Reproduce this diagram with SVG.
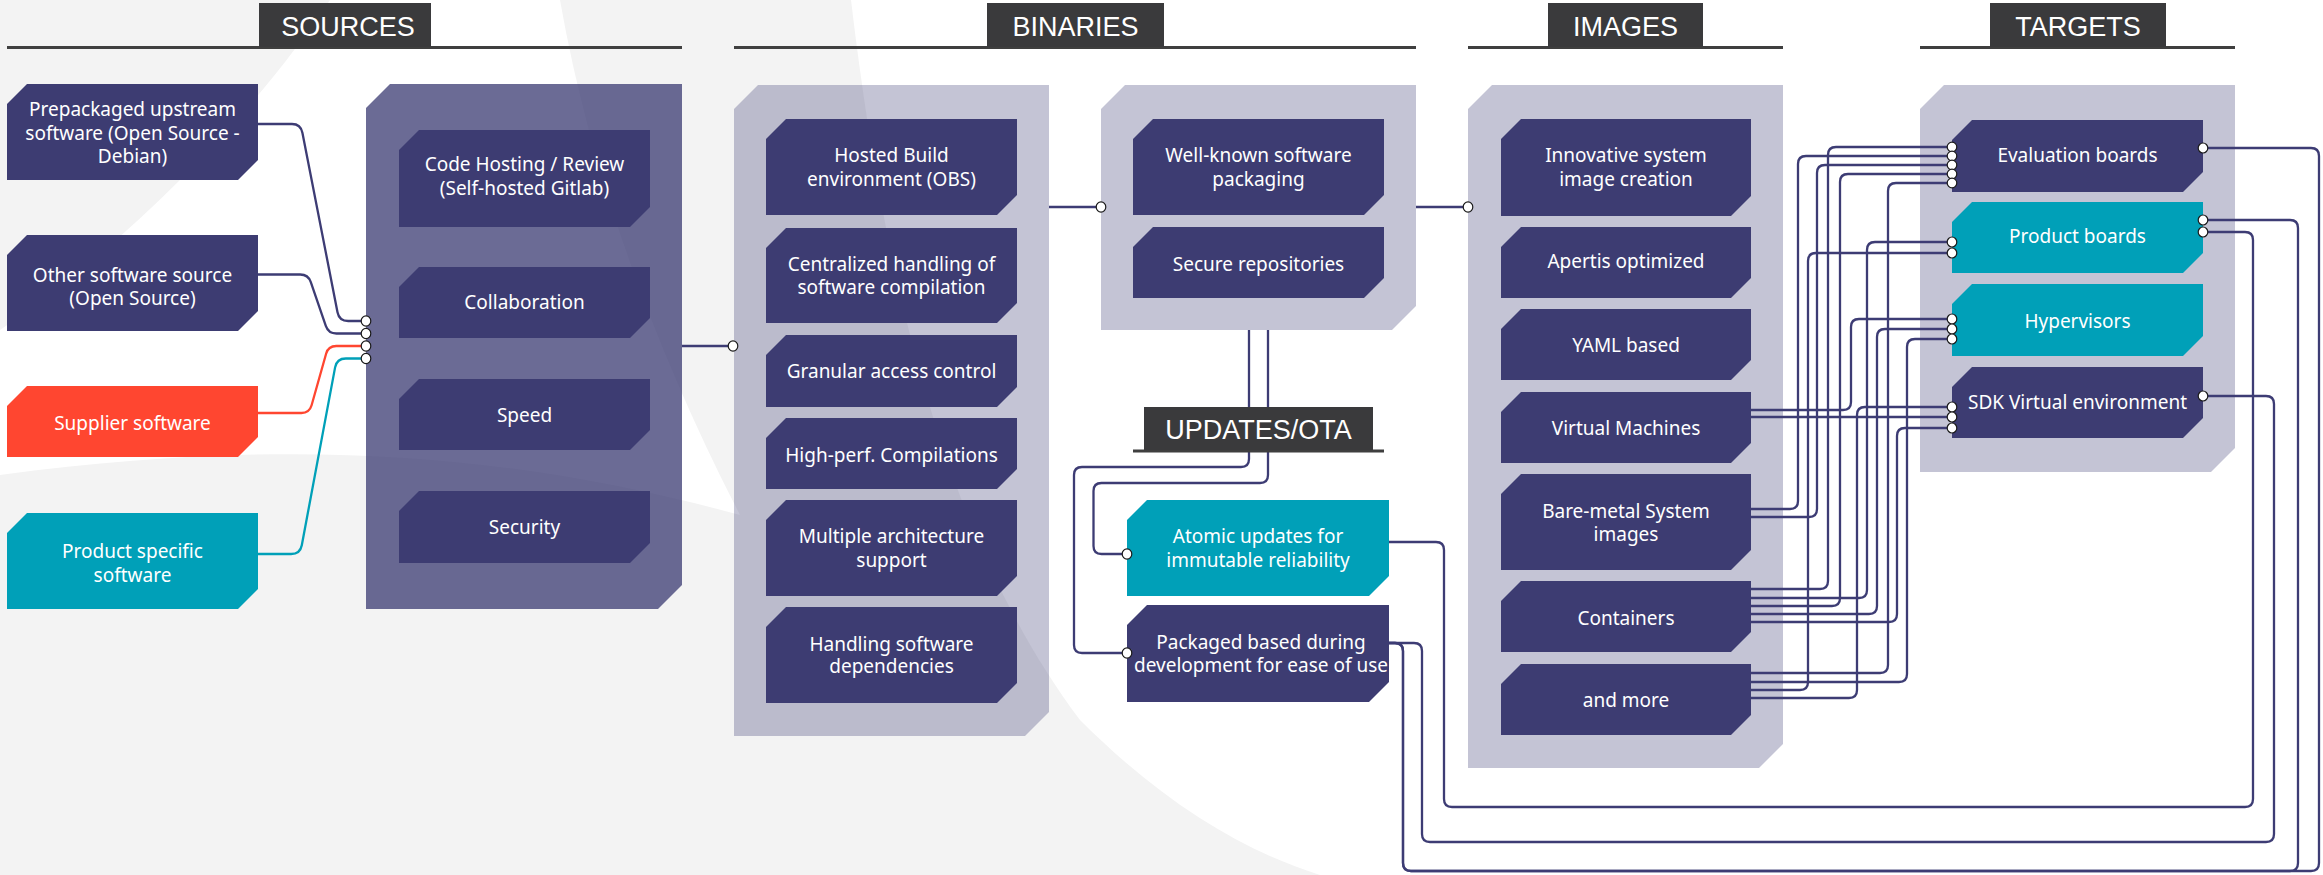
<svg xmlns="http://www.w3.org/2000/svg" width="2323" height="875" viewBox="0 0 2323 875">
<defs>
<style>
.bg-grey{fill:#f3f3f3}
.bg-white{fill:#ffffff}
.panel{fill:#3d3c74;fill-opacity:.3}
.panel-dark{fill:#3d3c74;fill-opacity:.76}
.node{fill:#3d3c72}
.teal{fill:#00a0b8}
.red{fill:#ff4630}
.lbl{font-family:"Noto Sans","Open Sans",sans-serif;font-size:19px;fill:#ffffff;text-anchor:middle}
.hbox{fill:#3a3a3c}
.hline{stroke:#3f3f3f;stroke-width:3}
.htxt{font-family:"Liberation Sans",Arial,sans-serif;font-size:27px;fill:#ffffff;text-anchor:middle}
.edge{fill:none;stroke:#3d3c74;stroke-width:2.3}
.edge-red{stroke:#ff4630}
.edge-teal{stroke:#00a0b8}
.port{fill:#ffffff;stroke:#1a1a1a;stroke-width:1.2}
</style>
</defs>

<!-- background swoosh -->
<g id="background">
<rect class="bg-grey" x="0" y="0" width="2323" height="875"/>
<path class="bg-white" d="M851,0 C890,330 960,560 1080,720 C1160,800 1240,850 1320,875 L2323,875 L2323,0 Z"/>
<path class="bg-white" d="M330,0 L560,0 C590,170 650,340 740,515 C520,455 300,435 0,475 L0,330 C120,250 250,120 330,0 Z"/>
</g>

<!-- group panels -->
<g id="panels">
<path id="panel-sources" class="panel-dark" d="M390,84H682V585L658,609H366V108Z"/>
<path id="panel-build" class="panel" d="M758,85H1049V712L1025,736H734V109Z"/>
<path id="panel-packaging" class="panel" d="M1125,85H1416V306L1392,330H1101V109Z"/>
<path id="panel-images" class="panel" d="M1492,85H1783V744L1759,768H1468V109Z"/>
<path id="panel-targets" class="panel" d="M1944,85H2235V448L2211,472H1920V109Z"/>
</g>

<!-- source inputs -->
<g id="src-prepackaged"><path class="node" d="M27,84H258V160L238,180H7V104Z"/>
<text class="lbl" x="132.5" y="116">Prepackaged upstream<tspan x="132.5" y="140">software (Open Source -</tspan><tspan x="132.5" y="163">Debian)</tspan></text></g>
<g id="src-other"><path class="node" d="M27,235H258V311L238,331H7V255Z"/>
<text class="lbl" x="132.5" y="282">Other software source<tspan x="132.5" y="305">(Open Source)</tspan></text></g>
<g id="src-supplier"><path class="red" d="M27,386H258V437L238,457H7V406Z"/>
<text class="lbl" x="132.5" y="430">Supplier software</text></g>
<g id="src-product"><path class="teal" d="M27,513H258V589L238,609H7V533Z"/>
<text class="lbl" x="132.5" y="558">Product specific<tspan x="132.5" y="582">software</tspan></text></g>

<!-- sources panel items -->
<g id="code-hosting"><path class="node" d="M419,130H650V207L630,227H399V150Z"/>
<text class="lbl" x="524.5" y="171">Code Hosting / Review<tspan x="524.5" y="195">(Self-hosted Gitlab)</tspan></text></g>
<g id="collaboration"><path class="node" d="M419,267H650V318L630,338H399V287Z"/>
<text class="lbl" x="524.5" y="309">Collaboration</text></g>
<g id="speed"><path class="node" d="M419,379H650V430L630,450H399V399Z"/>
<text class="lbl" x="524.5" y="422">Speed</text></g>
<g id="security"><path class="node" d="M419,491H650V543L630,563H399V511Z"/>
<text class="lbl" x="524.5" y="534">Security</text></g>

<!-- binaries: build -->
<g id="hosted-build"><path class="node" d="M786,119H1017V195L997,215H766V139Z"/>
<text class="lbl" x="891.5" y="162">Hosted Build<tspan x="891.5" y="186">environment (OBS)</tspan></text></g>
<g id="centralized"><path class="node" d="M786,228H1017V303L997,323H766V248Z"/>
<text class="lbl" x="891.5" y="271">Centralized handling of<tspan x="891.5" y="294">software compilation</tspan></text></g>
<g id="granular"><path class="node" d="M786,335H1017V387L997,407H766V355Z"/>
<text class="lbl" x="891.5" y="378">Granular access control</text></g>
<g id="high-perf"><path class="node" d="M786,418H1017V469L997,489H766V438Z"/>
<text class="lbl" x="891.5" y="462">High-perf. Compilations</text></g>
<g id="multi-arch"><path class="node" d="M786,500H1017V576L997,596H766V520Z"/>
<text class="lbl" x="891.5" y="543">Multiple architecture<tspan x="891.5" y="567">support</tspan></text></g>
<g id="dependencies"><path class="node" d="M786,607H1017V683L997,703H766V627Z"/>
<text class="lbl" x="891.5" y="651">Handling software<tspan x="891.5" y="673">dependencies</tspan></text></g>

<!-- binaries: packaging -->
<g id="well-known"><path class="node" d="M1153,119H1384V195L1364,215H1133V139Z"/>
<text class="lbl" x="1258.5" y="162">Well-known software<tspan x="1258.5" y="186">packaging</tspan></text></g>
<g id="secure-repos"><path class="node" d="M1153,227H1384V278L1364,298H1133V247Z"/>
<text class="lbl" x="1258.5" y="271">Secure repositories</text></g>

<!-- updates -->
<g id="atomic-updates"><path class="teal" d="M1147,500H1389V576L1369,596H1127V520Z"/>
<text class="lbl" x="1258" y="543">Atomic updates for<tspan x="1258" y="567">immutable reliability</tspan></text></g>
<g id="package-updates"><path class="node" d="M1147,605H1389V682L1369,702H1127V625Z"/>
<text class="lbl" x="1261" y="649">Packaged based during<tspan x="1261" y="672">development for ease of use</tspan></text></g>

<!-- images -->
<g id="img-innovative"><path class="node" d="M1521,119H1751V196L1731,216H1501V139Z"/>
<text class="lbl" x="1626" y="162">Innovative system<tspan x="1626" y="186">image creation</tspan></text></g>
<g id="img-apertis"><path class="node" d="M1521,227H1751V278L1731,298H1501V247Z"/>
<text class="lbl" x="1626" y="268">Apertis optimized</text></g>
<g id="img-yaml"><path class="node" d="M1521,309H1751V360L1731,380H1501V329Z"/>
<text class="lbl" x="1626" y="352">YAML based</text></g>
<g id="img-vm"><path class="node" d="M1521,392H1751V443L1731,463H1501V412Z"/>
<text class="lbl" x="1626" y="435">Virtual Machines</text></g>
<g id="img-baremetal"><path class="node" d="M1521,474H1751V550L1731,570H1501V494Z"/>
<text class="lbl" x="1626" y="518">Bare-metal System<tspan x="1626" y="541">images</tspan></text></g>
<g id="img-containers"><path class="node" d="M1521,581H1751V632L1731,652H1501V601Z"/>
<text class="lbl" x="1626" y="625">Containers</text></g>
<g id="img-more"><path class="node" d="M1521,664H1751V715L1731,735H1501V684Z"/>
<text class="lbl" x="1626" y="707">and more</text></g>

<!-- targets -->
<g id="tgt-eval"><path class="node" d="M1972,120H2203V172L2183,192H1952V140Z"/>
<text class="lbl" x="2077.5" y="162">Evaluation boards</text></g>
<g id="tgt-product"><path class="teal" d="M1972,202H2203V253L2183,273H1952V222Z"/>
<text class="lbl" x="2077.5" y="243">Product boards</text></g>
<g id="tgt-hypervisors"><path class="teal" d="M1972,284H2203V336L2183,356H1952V304Z"/>
<text class="lbl" x="2077.5" y="328">Hypervisors</text></g>
<g id="tgt-sdk"><path class="node" d="M1972,367H2203V418L2183,438H1952V387Z"/>
<text class="lbl" x="2077.5" y="409">SDK Virtual environment</text></g>

<!-- connectors -->
<g id="connectors">
<path class="edge" d="M258,124H292Q300.7,124 302.4,132.8L337.5,312.2Q339.2,321 348.2,321H366"/>
<path class="edge" d="M258,274.5H300.2Q308.2,274.5 310.8,282.1L325.8,325.9Q328.4,333.5 336.4,333.5H366"/>
<path class="edge edge-red" d="M258,413H301.4Q309.4,413 311.6,405.3L326.1,353.7Q328.25,346 336.25,346H366"/>
<path class="edge edge-teal" d="M258,554H291.1Q300.1,554 301.8,545.2L335.1,367.4Q336.8,358.5 345.8,358.5H366"/>
<path class="edge" d="M682,346H733"/>
<path class="edge" d="M1049,207H1101"/>
<path class="edge" d="M1416,207H1468"/>
<path class="edge" d="M1249,330V459Q1249,467 1241,467H1082Q1074,467 1074,475V645Q1074,653 1082,653H1127"/>
<path class="edge" d="M1268,330V475Q1268,483 1260,483H1101.5Q1093.5,483 1093.5,491V546Q1093.5,554 1101.5,554H1127"/>
<path class="edge" d="M1751,410H1843Q1851,410 1851,402V327Q1851,319 1859,319H1952"/>
<path class="edge" d="M1751,417H1952"/>
<path class="edge" d="M1751,509H1790Q1798,509 1798,501V164Q1798,156 1806,156H1952"/>
<path class="edge" d="M1751,517H1809Q1817,517 1817,509V173Q1817,165 1825,165H1952"/>
<path class="edge" d="M1751,589H1820Q1828,589 1828,581V155Q1828,147 1836,147H1952"/>
<path class="edge" d="M1751,598H1859Q1867,598 1867,590V250Q1867,242 1875,242H1952"/>
<path class="edge" d="M1751,606H1832Q1840,606 1840,598V182Q1840,174 1848,174H1952"/>
<path class="edge" d="M1751,614H1869Q1877,614 1877,606V337Q1877,329 1885,329H1952"/>
<path class="edge" d="M1751,622H1889Q1897,622 1897,614V436Q1897,428 1905,428H1952"/>
<path class="edge" d="M1751,673H1880Q1888,673 1888,665V191Q1888,183 1896,183H1952"/>
<path class="edge" d="M1751,682H1899Q1907,682 1907,674V347Q1907,339 1915,339H1952"/>
<path class="edge" d="M1751,690H1800Q1808,690 1808,682V261Q1808,253 1816,253H1952"/>
<path class="edge" d="M1751,698H1849Q1857,698 1857,690V415Q1857,407 1865,407H1952"/>
<path class="edge" d="M1389,542H1436Q1444,542 1444,550V799Q1444,807 1452,807H2245Q2253,807 2253,799V240Q2253,232 2245,232H2203"/>
<path class="edge" d="M1389,643H1414Q1422,643 1422,651V834Q1422,842 1430,842H2266Q2274,842 2274,834V404Q2274,396 2266,396H2203"/>
<path class="edge" d="M1389,643H1395Q1403,643 1403,651V863Q1403,871 1411,871H2290Q2298,871 2298,863V228Q2298,220 2290,220H2203"/>
<path class="edge" d="M1389,643H1395Q1403,643 1403,651V863Q1403,871 1411,871H2311Q2319,871 2319,863V156Q2319,148 2311,148H2203"/>
<g id="ports">
<ellipse class="port" cx="366" cy="321" rx="4.8" ry="5.2"/>
<ellipse class="port" cx="366" cy="333.5" rx="4.8" ry="5.2"/>
<ellipse class="port" cx="366" cy="346" rx="4.8" ry="5.2"/>
<ellipse class="port" cx="366" cy="358.5" rx="4.8" ry="5.2"/>
<ellipse class="port" cx="733" cy="346" rx="4.8" ry="5.2"/>
<ellipse class="port" cx="1101" cy="207" rx="4.8" ry="5.2"/>
<ellipse class="port" cx="1468" cy="207" rx="4.8" ry="5.2"/>
<ellipse class="port" cx="1127" cy="554" rx="4.8" ry="5.2"/>
<ellipse class="port" cx="1127" cy="653" rx="4.8" ry="5.2"/>
<ellipse class="port" cx="1952" cy="147" rx="4.8" ry="4.8"/>
<ellipse class="port" cx="1952" cy="156" rx="4.8" ry="4.8"/>
<ellipse class="port" cx="1952" cy="165" rx="4.8" ry="4.8"/>
<ellipse class="port" cx="1952" cy="174" rx="4.8" ry="4.8"/>
<ellipse class="port" cx="1952" cy="183" rx="4.8" ry="4.8"/>
<ellipse class="port" cx="1952" cy="242" rx="4.8" ry="5"/>
<ellipse class="port" cx="1952" cy="253" rx="4.8" ry="5"/>
<ellipse class="port" cx="1952" cy="319" rx="4.8" ry="5"/>
<ellipse class="port" cx="1952" cy="329" rx="4.8" ry="5"/>
<ellipse class="port" cx="1952" cy="339" rx="4.8" ry="5"/>
<ellipse class="port" cx="1952" cy="407" rx="4.8" ry="5"/>
<ellipse class="port" cx="1952" cy="417" rx="4.8" ry="5"/>
<ellipse class="port" cx="1952" cy="428" rx="4.8" ry="5"/>
<ellipse class="port" cx="2203" cy="148" rx="4.8" ry="5"/>
<ellipse class="port" cx="2203" cy="220" rx="4.8" ry="5"/>
<ellipse class="port" cx="2203" cy="232" rx="4.8" ry="5"/>
<ellipse class="port" cx="2203" cy="396" rx="4.8" ry="5"/>
</g>
</g>

<!-- column headings -->
<g id="headings">
<g id="hdr-sources"><line class="hline" x1="7" y1="47.5" x2="682" y2="47.5"/><rect class="hbox" x="259" y="3" width="172" height="44"/><text class="htxt" x="348" y="36">SOURCES</text></g>
<g id="hdr-binaries"><line class="hline" x1="734" y1="47.5" x2="1416" y2="47.5"/><rect class="hbox" x="987" y="3" width="177" height="44"/><text class="htxt" x="1075.5" y="36">BINARIES</text></g>
<g id="hdr-images"><line class="hline" x1="1468" y1="47.5" x2="1783" y2="47.5"/><rect class="hbox" x="1548" y="3" width="155" height="44"/><text class="htxt" x="1625.5" y="36">IMAGES</text></g>
<g id="hdr-targets"><line class="hline" x1="1920" y1="47.5" x2="2235" y2="47.5"/><rect class="hbox" x="1990" y="3" width="176" height="44"/><text class="htxt" x="2078" y="36">TARGETS</text></g>
<g id="hdr-updates"><line class="hline" x1="1133" y1="451" x2="1384" y2="451"/><rect class="hbox" x="1144" y="407" width="229" height="43"/><text class="htxt" x="1258.5" y="439">UPDATES/OTA</text></g>
</g>
</svg>
